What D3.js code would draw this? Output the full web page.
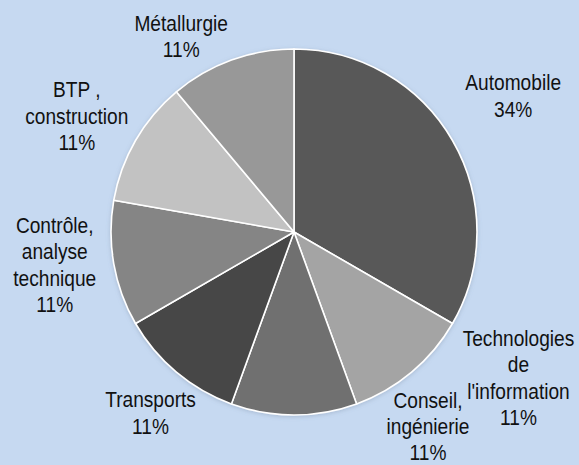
<!DOCTYPE html>
<html>
<head>
<meta charset="utf-8">
<script src="https://cdn.jsdelivr.net/npm/d3@7"></script>
<style>
    html, body { margin: 0; padding: 0; background: #c6d9f1; }
    svg { display: block; }
</style>
</head>
<body>
<div id="chart"></div>
<script>
// Sectors and their shares (counts, as drawn)
const sectors = ['Automobile', "Technologies de l'information", 'Conseil, ingénierie', 'Transports',
    'Contrôle, analyse technique', 'BTP , construction', 'Métallurgie'];
const counts = [3, 1, 1, 1, 1, 1, 1];
const percentLabels = ['34%', '11%', '11%', '11%', '11%', '11%', '11%'];
// label text broken on lines like the original
const labelLines = [
    ['Automobile'],
    ['Technologies', 'de', "l'information"],
    ['Conseil,', 'ingénierie'],
    ['Transports'],
    ['Contrôle,', 'analyse', 'technique'],
    ['BTP ,', 'construction'],
    ['Métallurgie']
];
const sliceColors = ['#585858', '#a4a4a4', '#707070', '#464646', '#858585', '#c2c2c2', '#989898'];

const width = 579, height = 465;
const cx = 294, cy = 232, radius = 183;
const fontSize = 22, lineHeight = 26.5;

// nudges from the default label spot (Excel moves some labels around)
const labelNudge = {
    'Automobile': [7, -14],
    "Technologies de l'information": [67, -42],
    'Conseil, ingénierie': [134, -51],
    'Transports': [14, -7],
    'Contrôle, analyse technique': [2, -10],
    'BTP , construction': [-5, 6],
    'Métallurgie': [-29, 34]
};

const data = sectors.map((s, i) => ({sector: s, count: counts[i], pct: percentLabels[i], lines: labelLines[i]}));

const svg = d3.select('#chart')
    .append('svg')
    .attr('width', width)
    .attr('height', height);

svg.append('rect')
    .attr('width', width)
    .attr('height', height)
    .attr('fill', '#c6d9f1');

const defs = svg.append('defs');
const shadow = defs.append('filter')
    .attr('id', 'shadow')
    .attr('x', '-10%').attr('y', '-10%')
    .attr('width', '120%').attr('height', '120%');
shadow.append('feDropShadow')
    .attr('dx', 0).attr('dy', 1)
    .attr('stdDeviation', 2)
    .attr('flood-color', '#6f7f99')
    .attr('flood-opacity', 0.35);

const pie = d3.pie()
    .value(d => d.count)
    .sort(null);

const arc = d3.arc()
    .innerRadius(0)
    .outerRadius(radius);

const labelArc = d3.arc()
    .innerRadius(245)
    .outerRadius(245);

const g = svg.append('g')
    .attr('transform', `translate(${cx},${cy})`);

const arcs = pie(data);

g.append('g')
    .attr('filter', 'url(#shadow)')
    .selectAll('path')
    .data(arcs)
    .enter()
    .append('path')
    .attr('d', arc)
    .attr('fill', (d, i) => sliceColors[i])
    .attr('stroke', '#ffffff')
    .attr('stroke-width', 1.6)
    .attr('stroke-linejoin', 'round');

// Labels
const labels = g.selectAll('.label')
    .data(arcs)
    .enter()
    .append('g')
    .attr('class', 'label')
    .attr('transform', d => {
        const [x, y] = labelArc.centroid(d);
        const n = labelNudge[d.data.sector] || [0, 0];
        return `translate(${x + n[0]},${y + n[1]}) scale(0.87,1)`;
    });

labels.each(function(d) {
    const lines = [...d.data.lines, d.data.pct];
    const firstBase = -(lines.length - 1) * lineHeight / 2 + 8;
    const text = d3.select(this).append('text')
        .attr('text-anchor', 'middle')
        .attr('font-family', 'Liberation Sans, Arial, sans-serif')
        .attr('font-size', fontSize)
        .attr('fill', '#111111');
    lines.forEach((line, i) => {
        text.append('tspan')
            .attr('x', 0)
            .attr('y', firstBase + i * lineHeight)
            .text(line);
    });
});
</script>
</body>
</html>
